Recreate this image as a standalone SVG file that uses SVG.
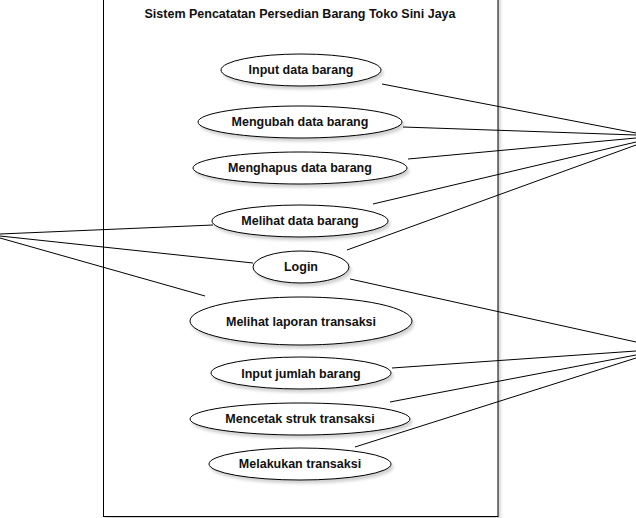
<svg xmlns="http://www.w3.org/2000/svg" width="636" height="518" viewBox="0 0 636 518">
<defs>
<filter id="sh" x="-10%" y="-20%" width="130%" height="160%">
<feDropShadow dx="2" dy="3" stdDeviation="1.5" flood-color="#000" flood-opacity="0.18"/>
</filter>
<style>
.uc{fill:#fff;stroke:#000;stroke-width:1}
.t{font-family:"Liberation Sans",Arial,Helvetica,sans-serif;font-size:12.5px;font-weight:bold;fill:#111;text-anchor:middle}
.ln{stroke:#000;stroke-width:1;fill:none}
</style>
</defs>
<rect width="636" height="518" fill="#fff"/>
<g id="system">
<rect x="103.5" y="-5" width="394.5" height="521.5" fill="#fff" stroke="#000" stroke-width="1" filter="url(#sh)"/>
<text class="t" x="300" y="18">Sistem Pencatatan Persedian Barang Toko Sini Jaya</text>
</g>
<g id="connectors">
<line class="ln" x1="0" y1="234" x2="213" y2="225"/>
<line class="ln" x1="0" y1="236" x2="253" y2="263"/>
<line class="ln" x1="0" y1="238" x2="205" y2="296"/>
<line class="ln" x1="382" y1="84" x2="636" y2="133"/>
<line class="ln" x1="403" y1="127" x2="636" y2="135"/>
<line class="ln" x1="408" y1="159" x2="636" y2="138"/>
<line class="ln" x1="373" y1="204" x2="636" y2="142"/>
<line class="ln" x1="347" y1="250" x2="636" y2="145"/>
<line class="ln" x1="350" y1="279" x2="636" y2="342"/>
<line class="ln" x1="392" y1="368" x2="636" y2="351"/>
<line class="ln" x1="390" y1="402" x2="636" y2="355"/>
<line class="ln" x1="355" y1="447" x2="636" y2="358"/>
</g>
<g id="uc1"><ellipse class="uc" cx="301" cy="70" rx="80" ry="16" filter="url(#sh)"/><text class="t" x="301" y="74">Input data barang</text></g>
<g id="uc2"><ellipse class="uc" cx="300" cy="122" rx="102" ry="16" filter="url(#sh)"/><text class="t" x="300" y="126">Mengubah data barang</text></g>
<g id="uc3"><ellipse class="uc" cx="300" cy="168" rx="107" ry="16" filter="url(#sh)"/><text class="t" x="300" y="172">Menghapus data barang</text></g>
<g id="uc4"><ellipse class="uc" cx="300" cy="221" rx="88" ry="16" filter="url(#sh)"/><text class="t" x="300" y="225">Melihat data barang</text></g>
<g id="uc5"><ellipse class="uc" cx="301" cy="267" rx="48" ry="16" filter="url(#sh)"/><text class="t" x="301" y="271">Login</text></g>
<g id="uc6"><ellipse class="uc" cx="301" cy="321" rx="111" ry="24" filter="url(#sh)"/><text class="t" x="301" y="326">Melihat laporan transaksi</text></g>
<g id="uc7"><ellipse class="uc" cx="301" cy="373" rx="90" ry="16" filter="url(#sh)"/><text class="t" x="301" y="378">Input jumlah barang</text></g>
<g id="uc8"><ellipse class="uc" cx="300" cy="419" rx="110" ry="16" filter="url(#sh)"/><text class="t" x="300" y="423">Mencetak struk transaksi</text></g>
<g id="uc9"><ellipse class="uc" cx="300" cy="464" rx="91" ry="16" filter="url(#sh)"/><text class="t" x="300" y="468">Melakukan transaksi</text></g>
</svg>
